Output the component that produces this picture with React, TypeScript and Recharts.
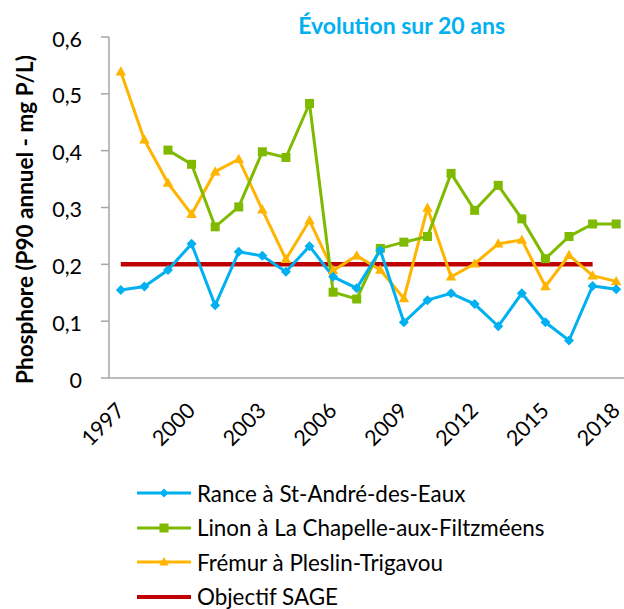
import React from "react";
import { LineChart, Line, XAxis, YAxis, Legend } from "recharts";

// years 1997 -> 2018
const years = [
	1997, 1998, 1999, 2000, 2001, 2002, 2003, 2004, 2005, 2006, 2007, 2008, 2009,
	2010, 2011, 2012, 2013, 2014, 2015, 2016, 2017, 2018,
];

const rance = [
	0.155, 0.161, 0.19, 0.236, 0.128, 0.222, 0.215, 0.187, 0.232, 0.178, 0.158,
	0.225, 0.098, 0.137, 0.149, 0.13, 0.091, 0.149, 0.098, 0.066, 0.162, 0.156,
];

const linon = [
	null, null, 0.401, 0.376, 0.266, 0.301, 0.398, 0.388, 0.483, 0.151, 0.139,
	0.228, 0.239, 0.249, 0.36, 0.295, 0.339, 0.28, 0.21, 0.249, 0.271, 0.271,
];

const fremur = [
	0.539, 0.419, 0.343, 0.288, 0.363, 0.385, 0.296, 0.209, 0.277, 0.189, 0.215,
	0.19, 0.14, 0.299, 0.178, 0.201, 0.236, 0.243, 0.161, 0.216, 0.18, 0.17,
];

const sage = [
	0.2, 0.2, 0.2, 0.2, 0.2, 0.2, 0.2, 0.2, 0.2, 0.2, 0.2, 0.2, 0.2, 0.2, 0.2,
	0.2, 0.2, 0.2, 0.2, 0.2, 0.2, null,
];

const yTicks = [0, 0.1, 0.2, 0.3, 0.4, 0.5, 0.6];
const yearLabels = [1997, 2000, 2003, 2006, 2009, 2012, 2015, 2018];
const yearBounds = [1996.5, 1999.5, 2002.5, 2005.5, 2008.5, 2011.5, 2014.5, 2017.5];

const BLUE = "#00B0F0";
const GREEN = "#7FBA00";
const ORANGE = "#FFB400";
const RED = "#C00000";
const AXIS = "#A6A6A6";
const FONT = "Lato, 'Open Sans', sans-serif";

const data = years.map((y, i) => ({
	year: y,
	rance: rance[i],
	linon: linon[i],
	fremur: fremur[i],
	sage: sage[i],
}));

const legendItems = [
	{ name: "Rance à St-André-des-Eaux", color: BLUE, shape: "diamond" },
	{ name: "Linon à La Chapelle-aux-Filtzméens", color: GREEN, shape: "square" },
	{ name: "Frémur à Pleslin-Trigavou", color: ORANGE, shape: "triangle" },
	{ name: "Objectif SAGE", color: RED, shape: "none" },
];

function marker(shape: string, cx: number, cy: number, s: number, color: string, key?: any) {
	if (shape === "diamond")
		return (
			<path key={key} d={`M${cx},${cy - s}L${cx + s},${cy}L${cx},${cy + s}L${cx - s},${cy}Z`} fill={color} />
		);
	if (shape === "square")
		return <rect key={key} x={cx - s} y={cy - s} width={s * 2} height={s * 2} fill={color} />;
	if (shape === "triangle")
		return (
			<path
				key={key}
				d={`M${cx},${cy - s * 1.1}L${cx + s * 1.05},${cy + s * 0.75}L${cx - s * 1.05},${cy + s * 0.75}Z`}
				fill={color}
			/>
		);
	return null;
}

const makeDot = (shape: string, s: number, color: string) => (props: any) => {
	const { cx, cy, index, value } = props;
	if (cx == null || cy == null || value == null) return <g key={"d" + index} />;
	return marker(shape, cx, cy, s, color, "d" + index);
};

// rotated year label, its end sits just right of the category centre
const YearTick = (props: any) => {
	const { x, y, payload } = props;
	const ex = x + 5;
	return (
		<text
			x={ex}
			y={y}
			transform={`rotate(-45 ${ex} ${y})`}
			textAnchor="end"
			fontSize={21.5}
			fontFamily={FONT}
			fill="#000"
		>
			{payload.value}
		</text>
	);
};

const LegendBox = () => (
	<div style={{ height: 138, fontFamily: FONT, fontSize: 22.4, color: "#000" }}>
		{legendItems.map((it) => (
			<div key={it.name} style={{ height: 34.5, display: "flex", alignItems: "center" }}>
				<svg width={60} height={20} style={{ flex: "none" }}>
					<line x1={0} y1={10} x2={54} y2={10} stroke={it.color} strokeWidth={it.shape === "none" ? 4 : 3} />
					{marker(it.shape, 27, 10, 4.5, it.color)}
				</svg>
				<span style={{ whiteSpace: "nowrap" }}>{it.name}</span>
			</div>
		))}
	</div>
);

export default function App() {
	return (
		<div style={{ position: "relative", width: 624, height: 609, overflow: "hidden", background: "#fff" }}>
			<style>{`body{margin:0}`}</style>
			<div
				style={{
					position: "absolute",
					right: 119,
					top: 11,
					fontFamily: FONT,
					fontWeight: 700,
					fontSize: 23,
					color: BLUE,
					whiteSpace: "nowrap",
					zIndex: 2,
				}}
			>
				Évolution sur 20 ans
			</div>
			<LineChart
				width={640}
				height={609}
				data={data}
				margin={{ top: 37, right: 12, left: 0, bottom: 3 }}
			>
				<XAxis
					xAxisId="marks"
					dataKey="year"
					type="number"
					domain={[1996.5, 2018.5]}
					ticks={yearBounds}
					tickFormatter={() => ""}
					axisLine={false}
					tickLine={{ stroke: AXIS, strokeWidth: 1.5 }}
					tickSize={8}
					height={0}
				/>
				<XAxis
					dataKey="year"
					type="number"
					domain={[1996.5, 2018.5]}
					ticks={yearLabels}
					tick={<YearTick />}
					tickLine={false}
					axisLine={{ stroke: AXIS, strokeWidth: 1.5 }}
					tickSize={0}
					tickMargin={34}
					height={90}
					interval={0}
				/>
				<YAxis
					domain={[0, 0.6]}
					ticks={yTicks}
					tickFormatter={(v: number) => (v === 0 ? "0" : v.toFixed(1).replace(".", ","))}
					tick={{ fontSize: 21.5, fontFamily: FONT, fill: "#000", dy: 2 }}
					tickLine={{ stroke: AXIS, strokeWidth: 1.5 }}
					axisLine={{ stroke: AXIS, strokeWidth: 1.5 }}
					tickSize={8}
					tickMargin={19}
					width={109}
					interval={0}
					label={{
						value: "Phosphore (P90 annuel - mg P/L)",
						angle: -90,
						position: "insideLeft",
						offset: 25,
						dy: 12,
						style: { textAnchor: "middle", fontFamily: FONT, fontWeight: 700, fontSize: 22.5, fill: "#000" },
					}}
				/>
				<Legend
					layout="vertical"
					verticalAlign="bottom"
					align="center"
					content={<LegendBox />}
					wrapperStyle={{ top: 476, bottom: "auto", left: 137 }}
				/>
				<Line
					dataKey="sage"
					stroke={RED}
					strokeWidth={4.5}
					dot={false}
					isAnimationActive={false}
				/>
				<Line
					dataKey="fremur"
					stroke={ORANGE}
					strokeWidth={3}
					dot={makeDot("triangle", 5, ORANGE)}
					isAnimationActive={false}
				/>
				<Line
					dataKey="linon"
					stroke={GREEN}
					strokeWidth={3}
					dot={makeDot("square", 4.5, GREEN)}
					isAnimationActive={false}
				/>
				<Line
					dataKey="rance"
					stroke={BLUE}
					strokeWidth={3}
					dot={makeDot("diamond", 5, BLUE)}
					isAnimationActive={false}
				/>
			</LineChart>
		</div>
	);
}
